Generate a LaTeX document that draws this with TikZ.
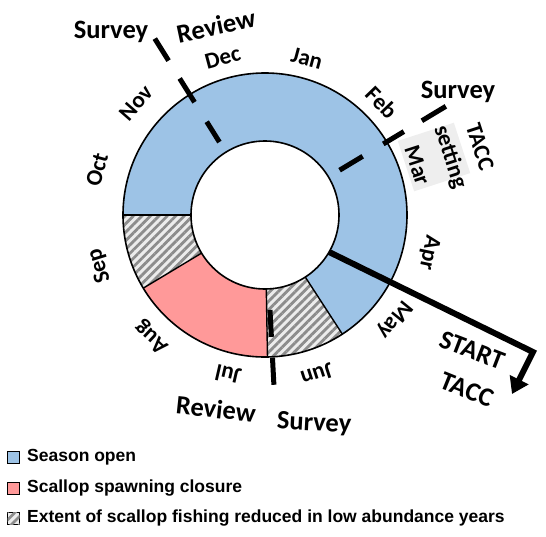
\documentclass[tikz,border=0pt]{standalone}
\usepackage{fontspec}
\setmainfont{Carlito}
\newfontfamily\legendfont{Liberation Sans}
\usetikzlibrary{positioning, arrows.meta, patterns.meta}

\definecolor{openblue}{HTML}{9DC3E6}
\definecolor{spawnred}{HTML}{FF9999}

\newcommand{\Rout}{142}
\newcommand{\Rin}{74}

\begin{document}
\begin{tikzpicture}[
    x=1pt, y=1pt,
    >=Stealth,
    hatched/.style={
        fill=gray!15,
        postaction={pattern={Lines[angle=45,distance=6pt,line width=2.8pt]}, pattern color=gray!90}
    },
    monthlabel/.style={font=\fontsize{23}{26}\selectfont\bfseries, inner sep=0pt},
    eventlabel/.style={font=\fontsize{26.5}{29}\selectfont\bfseries, inner sep=0pt},
    marker/.style={line width=5pt},
    legendbox/.style={draw, line width=1pt, minimum size=12pt, inner sep=0pt},
    legendtext/.style={font=\legendfont\fontsize{17.5}{20}\selectfont\bfseries, inner sep=0pt, anchor=west}
]
    \useasboundingbox (0,0) rectangle (546,-536);

    \node[fill=gray!13, rotate=-72, minimum width=53, minimum height=59, inner sep=0pt] (tacc-box) at (434,-157) {};

    \begin{scope}[shift={(265,-215)}]
        \fill[openblue] (-57:\Rout) arc[start angle=-57, end angle=180, radius=\Rout]
            -- (180:\Rin) arc[start angle=180, end angle=-57, radius=\Rin] -- cycle;
        \fill[hatched] (180:\Rout) arc[start angle=180, end angle=211, radius=\Rout]
            -- (211:\Rin) arc[start angle=211, end angle=180, radius=\Rin] -- cycle;
        \fill[spawnred] (211:\Rout) arc[start angle=211, end angle=271, radius=\Rout]
            -- (271:\Rin) arc[start angle=271, end angle=211, radius=\Rin] -- cycle;
        \fill[hatched] (271:\Rout) arc[start angle=271, end angle=303, radius=\Rout]
            -- (303:\Rin) arc[start angle=303, end angle=271, radius=\Rin] -- cycle;

        \draw[line width=1.4pt] (180:\Rin) -- (180:\Rout);
        \draw[line width=1.4pt] (211:\Rin) -- (211:\Rout);
        \draw[line width=1.4pt] (271:\Rin) -- (271:\Rout);
        \draw[line width=1.4pt] (303:\Rin) -- (303:\Rout);
        \draw[line width=1.6pt] (0,0) circle[radius=\Rout];
        \draw[line width=1.6pt] (0,0) circle[radius=\Rin];

        \draw[marker] (122:86) -- (122:110);
        \draw[marker] (122:133) -- (122:161);
        \draw[marker] (122:182) -- (122:208);
        \draw[marker] (31:87) -- (31:114);
        \draw[marker] (31:138) -- (31:162);
        \draw[marker] (31:183) -- (31:211);
        \draw[marker] (273:95) -- (273:122);
        \draw[marker] (273:143) -- (273:170);

        \node[monthlabel, rotate=-15] (m-jan) at (75:162) {Jan};
        \node[monthlabel, rotate=-46] (m-feb) at (44:162) {Feb};
        \node[monthlabel, rotate=-72] (m-mar) at (18:160) {Mar};
        \node[monthlabel, rotate=-102] (m-apr) at (-13:168) {Apr};
        \node[monthlabel, rotate=-129] (m-may) at (-39:166) {May};
        \node[monthlabel, rotate=-162] (m-jun) at (-72:168) {Jun};
        \node[monthlabel, rotate=167] (m-jul) at (257:164) {Jul};
        \node[monthlabel, rotate=137] (m-aug) at (227:166) {Aug};
        \node[monthlabel, rotate=107] (m-sep) at (197:173) {Sep};
        \node[monthlabel, rotate=75] (m-oct) at (165:174) {Oct};
        \node[monthlabel, rotate=49] (m-nov) at (139:171) {Nov};
        \node[monthlabel, rotate=15] (m-dec) at (105:163) {Dec};

        \coordinate (tacc-start) at (-30:\Rin);
        \coordinate (tacc-bend) at (268,-137);
        \coordinate (tacc-tip) at (247,-179);
    \end{scope}

    \draw[line width=6pt, line join=miter, -{Triangle[length=16pt,width=20pt]}] (tacc-start) -- (tacc-bend) -- (tacc-tip);

    \node[eventlabel] (survey-nov) at (111,-32) {Survey};
    \node[eventlabel, rotate=12] (review-dec) at (216,-26) {Review};
    \node[eventlabel] (survey-feb) at (458,-92) {Survey};
    \node[monthlabel, rotate=-72] (tacc-setting) at (450,-157) {setting};
    \node[monthlabel, rotate=-72] (tacc-label) at (480,-147) {TACC};
    \node[eventlabel, rotate=-6] (review-jul) at (216,-409) {Review};
    \node[eventlabel, rotate=-3] (survey-jun) at (314,-424) {Survey};
    \node[eventlabel, rotate=-21] (start-label) at (472,-350) {START};
    \node[eventlabel, rotate=-22] (start-tacc) at (467,-390) {TACC};

    \node[legendbox, fill=openblue] (key-open) at (13.5,-457) {};
    \node[legendbox, fill=spawnred] (key-spawn) at (13.5,-488) {};
    \node[legendbox, hatched] (key-reduced) at (13.5,-518) {};
    \node[legendtext] (txt-open) at (27,-457) {Season open};
    \node[legendtext] (txt-spawn) at (27,-488) {Scallop spawning closure};
    \node[legendtext] (txt-reduced) at (27,-518) {Extent of scallop fishing reduced in low abundance years};
\end{tikzpicture}
\end{document}
